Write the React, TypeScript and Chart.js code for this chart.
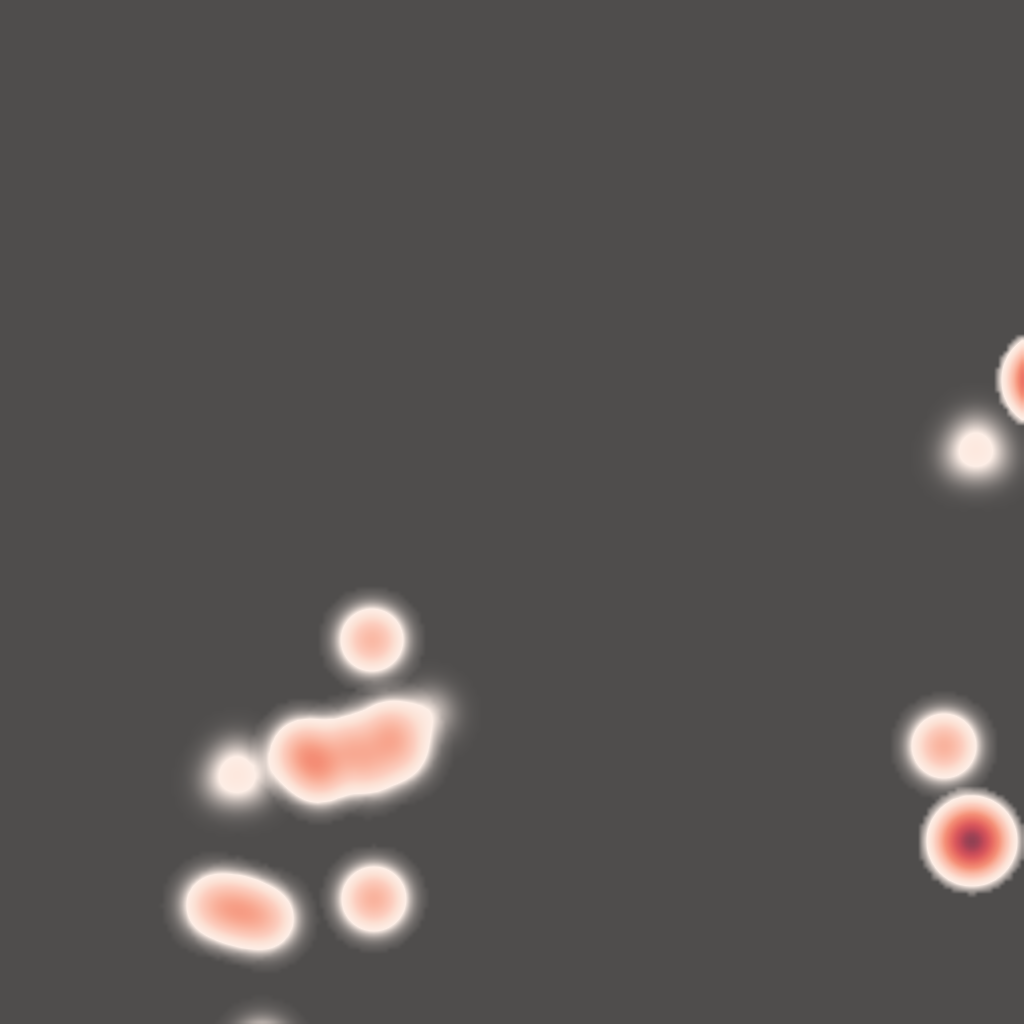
import React, { useEffect, useRef } from "react";
import { Chart, registerables } from "chart.js";

Chart.register(...registerables);

// Point locations (arbitrary 0-100 map units) and their heat weights
const lonValues = [
  36.33, 95.31, 94.14, 96.48, 102.54, 94.92, 92.19, 36.52, 21.0, 23.44, 25.88, 25.59,
  23.14, 21.97, 24.32, 29.69, 31.25, 34.18, 35.94, 38.09, 38.96, 41.8,
];
const latValues = [
  37.5, 57.42, 55.37, 55.37, 62.89, 17.87, 27.15, 12.21, 11.62, 11.04, 10.25, -2.54,
  25.68, 23.63, 23.63, 26.56, 24.8, 27.15, 25.29, 28.52, 26.56, 30.27,
];
const weights = [
  4.6, 0.62, 0.62, 0.62, 40, 25, 5.1, 5.1, 3.5, 4.5, 3.5, 2.0,
  0.65, 0.65, 0.65, 5.0, 5.0, 3.5, 3.0, 4.0, 2.5, 0.8,
];

// colour ramp stops (density -> rgb); alpha ramps from 0 to 1 below the first stop
const rampStops = [0, 1, 2, 3, 4.5, 6.5, 8, 12, 16, 20, 23, 26, 40];
const rampColors = [
  [253, 241, 235],
  [253, 238, 230],
  [252, 224, 211],
  [252, 205, 190],
  [250, 186, 166],
  [247, 160, 136],
  [244, 142, 118],
  [234, 112, 100],
  [218, 88, 92],
  [195, 74, 88],
  [165, 67, 85],
  [135, 64, 82],
  [110, 55, 78],
];

const BG = [79, 77, 76];
const SIGMA = 17.7;
const RADIUS = SIGMA * 3;
const DOWNSAMPLE = 4;

function rampColor(u: number): number[] {
  if (u <= rampStops[0]) return rampColors[0];
  for (let i = 1; i < rampStops.length; i++) {
    if (u <= rampStops[i]) {
      const t = (u - rampStops[i - 1]) / (rampStops[i] - rampStops[i - 1]);
      const a = rampColors[i - 1];
      const b = rampColors[i];
      return [a[0] + (b[0] - a[0]) * t, a[1] + (b[1] - a[1]) * t, a[2] + (b[2] - a[2]) * t];
    }
  }
  return rampColors[rampColors.length - 1];
}

const heatPlugin = {
  id: "heat",
  beforeDatasetsDraw(chart: any) {
    const ctx = chart.ctx as CanvasRenderingContext2D;
    const w = chart.width;
    const h = chart.height;
    const xs = chart.scales.x;
    const ys = chart.scales.y;
    const gw = Math.ceil(w / DOWNSAMPLE);
    const gh = Math.ceil(h / DOWNSAMPLE);
    const grid = new Float32Array(gw * gh);
    const pts = chart.data.datasets[0].data as any[];
    pts.forEach((p: any) => {
      const cx = xs.getPixelForValue(p.x);
      const cy = ys.getPixelForValue(p.y);
      const wt = p.w;
      for (let gy = 0; gy < gh; gy++) {
        const py = (gy + 0.5) * DOWNSAMPLE;
        const dy = py - cy;
        if (Math.abs(dy) > RADIUS) continue;
        for (let gx = 0; gx < gw; gx++) {
          const px = (gx + 0.5) * DOWNSAMPLE;
          const dx = px - cx;
          const r2 = dx * dx + dy * dy;
          if (r2 > RADIUS * RADIUS) continue;
          grid[gy * gw + gx] += wt * Math.exp(-r2 / (2 * SIGMA * SIGMA));
        }
      }
    });
    const img = ctx.createImageData(w, h);
    const d = img.data;
    for (let y = 0; y < h; y++) {
      let fy = (y + 0.5) / DOWNSAMPLE - 0.5;
      if (fy < 0) fy = 0;
      if (fy > gh - 1) fy = gh - 1;
      const y0 = Math.floor(fy);
      const y1 = Math.min(gh - 1, y0 + 1);
      const ty = fy - y0;
      for (let x = 0; x < w; x++) {
        let fx = (x + 0.5) / DOWNSAMPLE - 0.5;
        if (fx < 0) fx = 0;
        if (fx > gw - 1) fx = gw - 1;
        const x0 = Math.floor(fx);
        const x1 = Math.min(gw - 1, x0 + 1);
        const tx = fx - x0;
        const v00 = grid[y0 * gw + x0];
        const v10 = grid[y0 * gw + x1];
        const v01 = grid[y1 * gw + x0];
        const v11 = grid[y1 * gw + x1];
        const u = (v00 * (1 - tx) + v10 * tx) * (1 - ty) + (v01 * (1 - tx) + v11 * tx) * ty;
        const a = Math.min(1, u);
        const c = rampColor(u);
        const i = (y * w + x) * 4;
        d[i] = BG[0] * (1 - a) + c[0] * a;
        d[i + 1] = BG[1] * (1 - a) + c[1] * a;
        d[i + 2] = BG[2] * (1 - a) + c[2] * a;
        d[i + 3] = 255;
      }
    }
    ctx.putImageData(img, 0, 0);
  },
};

export default function App() {
  const ref = useRef<HTMLCanvasElement | null>(null);
  useEffect(() => {
    if (!ref.current) return;
    const data = lonValues.map((x, i) => ({ x, y: latValues[i], w: weights[i] }));
    const chart = new Chart(ref.current, {
      type: "scatter",
      data: {
        datasets: [
          {
            label: "heat",
            data,
            pointRadius: 0,
            pointHoverRadius: 0,
          },
        ],
      },
      options: {
        animation: false,
        responsive: false,
        maintainAspectRatio: false,
        layout: { padding: 0 },
        plugins: { legend: { display: false }, tooltip: { enabled: false } },
        scales: {
          x: { type: "linear", min: 0, max: 100, display: false },
          y: { type: "linear", min: 0, max: 100, display: false },
        },
      },
      plugins: [heatPlugin],
    });
    return () => chart.destroy();
  }, []);
  return (
    <div style={{ position: "fixed", left: 0, top: 0, width: 1024, height: 1024 }}>
      <canvas ref={ref} width={1024} height={1024} />
    </div>
  );
}
